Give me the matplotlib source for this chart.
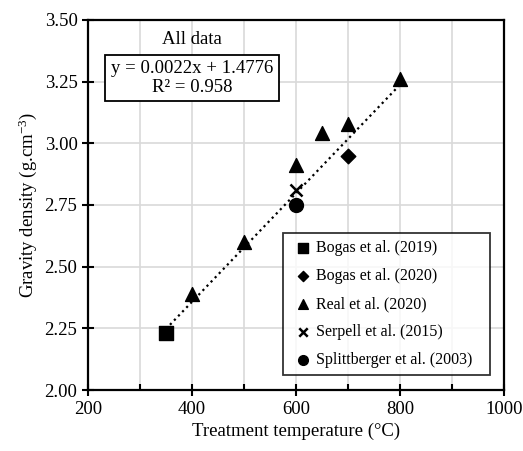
import matplotlib.pyplot as plt
import numpy as np
from matplotlib.ticker import MultipleLocator

plt.rcParams['font.family'] = ['Liberation Serif', 'DejaVu Serif']
plt.rcParams['mathtext.fontset'] = 'custom'
plt.rcParams['mathtext.rm'] = 'Liberation Serif'
plt.rcParams['mathtext.it'] = 'Liberation Serif:italic'

# gravity density vs treatment temperature
bogas19_t = [350]
bogas19_d = [2.23]
bogas20_t = [700]
bogas20_d = [2.95]
real20_t = [400, 500, 600, 650, 700, 800]
real20_d = [2.39, 2.60, 2.91, 3.04, 3.08, 3.26]
serpell_t = [600]
serpell_d = [2.81]
splitt_t = [600]
splitt_d = [2.75]

slope, intercept = 0.0022, 1.4776
fit_t = np.array([350, 800])

fig = plt.figure(figsize=(5.23, 4.51), dpi=100)
ax = fig.add_axes([0.168, 0.135, 0.796, 0.821])

ax.plot(fit_t, slope * fit_t + intercept, ls=':', color='black', lw=1.6, zorder=2)

ax.scatter(bogas19_t, bogas19_d, marker='s', s=100, color='black', zorder=3, label='Bogas et al. (2019)')
ax.scatter(bogas20_t, bogas20_d, marker='D', s=55, color='black', zorder=3, label='Bogas et al. (2020)')
ax.scatter(real20_t, real20_d, marker='^', s=100, color='black', zorder=3, label='Real et al. (2020)')
ax.scatter(serpell_t, serpell_d, marker='x', s=75, color='black', lw=1.8, zorder=3, label='Serpell et al. (2015)')
ax.scatter(splitt_t, splitt_d, marker='o', s=100, color='black', zorder=3, label='Splittberger et al. (2003)')

ax.set_xlim(200, 1000)
ax.set_ylim(2.0, 3.5)
ax.xaxis.set_major_locator(MultipleLocator(200))
ax.xaxis.set_minor_locator(MultipleLocator(100))
ax.yaxis.set_major_locator(MultipleLocator(0.25))
ax.yaxis.set_major_formatter(plt.FormatStrFormatter('%.2f'))
ax.grid(True, which='both', axis='x', color='#d9d9d9', lw=1.2, zorder=0)
ax.grid(True, which='major', axis='y', color='#d9d9d9', lw=1.2, zorder=0)
ax.set_axisbelow(True)

for s in ax.spines.values():
    s.set_linewidth(1.6)
ax.tick_params(which='major', direction='inout', length=8, width=1.5, labelsize=13.5)
ax.tick_params(which='minor', direction='in', length=4, width=1.5)

ax.set_xlabel('Treatment temperature (°C)', fontsize=13.5)
ax.set_ylabel('Gravity density (g.cm$^{-3}$)', fontsize=13.5)

ax.text(0.25, 0.925, 'All data', transform=ax.transAxes, ha='center', va='bottom', fontsize=13.5)
ax.text(0.25, 0.843, 'y = 0.0022x + 1.4776\nR² = 0.958', transform=ax.transAxes,
        ha='center', va='center', fontsize=13.5, linespacing=1.1,
        bbox=dict(boxstyle='square,pad=0.3', fc='white', ec='black', lw=1.3))

leg = ax.legend(loc='lower left', bbox_to_anchor=(0.469, 0.04, 0.4976, 0.1), mode='expand',
                fontsize=11.5, frameon=True, fancybox=False, edgecolor='black',
                handletextpad=0.0, handlelength=1.6, labelspacing=0.75, borderpad=0.45,
                borderaxespad=0, scatterpoints=1, markerscale=0.7)
leg.get_frame().set_linewidth(1.3)

fig.savefig('out.png', dpi=100)
